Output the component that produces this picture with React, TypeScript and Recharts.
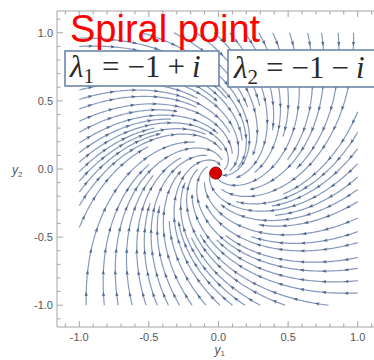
import React from 'react';
import { ScatterChart, Scatter, XAxis, YAxis, ReferenceLine } from 'recharts';

// y' = A y with eigenvalues λ = re ± i·im  (A = [[re, im], [-im, re]])
const LAMBDA_RE = -1;
const LAMBDA_IM = 1;

// where each streamline enters the square [-1, 1]², going clockwise round it,
// and the radius at which it stops
const topEntryX = [-0.55, -0.32, -0.16, -0.03, 0.08, 0.19, 0.29, 0.39, 0.51, 0.64, 0.74, 0.86, 0.97];
const topEndR = [0.03, 0.5, 0.27, 0.55, 0.14, 0.48, 0.26, 0.52, 0.07, 0.5, 0.28, 0.56, 0.15];
const rightEntryY = [0.42, 0.27, 0.15, 0.04, -0.06, -0.15, -0.24, -0.36, -0.46, -0.54, -0.65, -0.73, -0.82, -0.91];
const rightEndR = [0.5, 0.27, 0.47, 0.04, 0.53, 0.26, 0.5, 0.14, 0.55, 0.28, 0.49, 0.08, 0.52, 0.27];
const bottomEntryX = [0.79, 0.48, 0.3, 0.19, 0.1, 0.01, -0.09, -0.19, -0.28, -0.36, -0.44, -0.52, -0.62, -0.72, -0.82, -0.95];
const bottomEndR = [0.5, 0.15, 0.54, 0.26, 0.48, 0.03, 0.52, 0.27, 0.5, 0.13, 0.55, 0.28, 0.47, 0.07, 0.5, 0.26];
const leftEntryY = [-0.43, -0.27, -0.17, -0.09, -0.02, 0.05, 0.12, 0.19, 0.27, 0.35, 0.44, 0.51, 0.58, 0.66, 0.74, 0.82, 0.9, 0.96];
const leftEndR = [0.53, 0.14, 0.49, 0.27, 0.55, 0.04, 0.5, 0.26, 0.52, 0.15, 0.48, 0.28, 0.54, 0.08, 0.5, 0.27, 0.52, 0.14];

const equilibrium = [{ x: -0.02, y: -0.03 }];

const majorTicks = [-1, -0.5, 0, 0.5, 1];
const minorTicks = [-1.1, -0.9, -0.8, -0.7, -0.6, -0.4, -0.3, -0.2, -0.1, 0.1, 0.2, 0.3, 0.4, 0.6, 0.7, 0.8, 0.9, 1.1];

// layout
const W = 400;
const H = 360;
const M = { top: 11, right: 20, bottom: 0, left: 0 };
const Y_AXIS_W = 57;
const X_AXIS_H = 33;
const LO = -1.16;
const HI = 1.16;
const KX = (W - M.left - M.right - Y_AXIS_W) / (HI - LO);
const KY = (H - M.top - M.bottom - X_AXIS_H) / (HI - LO);

const LINE_COLOR = '#8598bc';
const ARROW_COLOR = '#4f6690';
const FRAME = '#a3a3a3';
const FONT = '"Liberation Sans", Arial, sans-serif';
const MATH_FONT = '"Liberation Serif", "Times New Roman", serif';

const ARROW_GAP = 0.16; // arc length between arrowheads
const SUB = 12; // samples between arrowheads

type Pt = { x: number; y: number; arrow?: boolean; ang?: number };

// follow the flow from (x0, y0) inward until radius rEnd
function streamline(x0: number, y0: number, rEnd: number): Pt[] {
  const r0 = Math.hypot(x0, y0);
  const th0 = Math.atan2(y0, x0);
  const dsdr = Math.hypot(LAMBDA_RE, LAMBDA_IM) / Math.abs(LAMBDA_RE);
  const dr = ARROW_GAP / SUB / dsdr;
  const pts: Pt[] = [];
  for (let j = 0; ; j++) {
    let r = r0 - j * dr;
    const last = r <= rEnd;
    if (last) r = rEnd;
    const t = Math.log(r / r0) / LAMBDA_RE;
    const th = th0 - LAMBDA_IM * t;
    const x = r * Math.cos(th);
    const y = r * Math.sin(th);
    const p: Pt = { x, y };
    if (!last && j % SUB === SUB / 2) {
      const vx = LAMBDA_RE * x + LAMBDA_IM * y;
      const vy = -LAMBDA_IM * x + LAMBDA_RE * y;
      p.arrow = true;
      p.ang = (Math.atan2(-vy * KY, vx * KX) * 180) / Math.PI;
    }
    pts.push(p);
    if (last) break;
  }
  return pts;
}

const seeds: [number, number, number][] = [
  ...topEntryX.map((v, i) => [v, 1, topEndR[i]] as [number, number, number]),
  ...rightEntryY.map((v, i) => [1, v, rightEndR[i]] as [number, number, number]),
  ...bottomEntryX.map((v, i) => [v, -1, bottomEndR[i]] as [number, number, number]),
  ...leftEntryY.map((v, i) => [-1, v, leftEndR[i]] as [number, number, number]),
];

const streams = seeds.map(([x, y, r]) => streamline(x, y, r));

const Arrowhead = (props: any) => {
  const { cx, cy, payload } = props;
  if (!payload || !payload.arrow) return <g />;
  return (
    <path
      d="M2.6,0 L-2,1.7 L-1.1,0 L-2,-1.7 Z"
      transform={`translate(${cx},${cy}) rotate(${payload.ang})`}
      fill={ARROW_COLOR}
    />
  );
};

const Dot = (props: any) => (
  <circle cx={props.cx} cy={props.cy} r={6} fill="#d60000" stroke="#a30000" strokeWidth={1} />
);

// frame ticks point inward on all four sides
function frameTicks(values: number[], len: number, keyPrefix: string) {
  const lx = len / KX;
  const ly = len / KY;
  const out: React.ReactNode[] = [];
  values.forEach((v) => {
    out.push(
      <ReferenceLine key={`${keyPrefix}b${v}`} segment={[{ x: v, y: LO }, { x: v, y: LO + ly }]} stroke={FRAME} ifOverflow="visible" />,
      <ReferenceLine key={`${keyPrefix}t${v}`} segment={[{ x: v, y: HI }, { x: v, y: HI - ly }]} stroke={FRAME} ifOverflow="visible" />,
      <ReferenceLine key={`${keyPrefix}l${v}`} segment={[{ x: LO, y: v }, { x: LO + lx, y: v }]} stroke={FRAME} ifOverflow="visible" />,
      <ReferenceLine key={`${keyPrefix}r${v}`} segment={[{ x: HI, y: v }, { x: HI - lx, y: v }]} stroke={FRAME} ifOverflow="visible" />
    );
  });
  return out;
}

const YLabel = (props: any) => {
  const vb = props.viewBox;
  return (
    <text x={vb.x + 12} y={vb.y + vb.height / 2 + 5} fill="#555" fontFamily={FONT} fontSize={12} fontStyle="italic">
      y<tspan fontSize={8} dy={3} fontStyle="normal">2</tspan>
    </text>
  );
};

const XLabel = (props: any) => {
  const vb = props.viewBox;
  return (
    <text x={vb.x + vb.width / 2 - 4} y={vb.y + vb.height - 6} fill="#555" fontFamily={FONT} fontSize={12} fontStyle="italic">
      y<tspan fontSize={8} dy={2} fontStyle="normal">1</tspan>
    </text>
  );
};

const tickStyle = { fill: '#555', fontSize: 11, fontFamily: FONT };

export default function App() {
  return (
    <div style={{ position: 'fixed', left: 0, top: 0, width: 374, height: 360, overflow: 'hidden', background: '#fff' }}>
      <ScatterChart width={W} height={H} margin={M}>
        <XAxis
          type="number"
          dataKey="x"
          domain={[LO, HI]}
          ticks={majorTicks}
          tickFormatter={(v: number) => v.toFixed(1)}
          tickLine={false}
          tickSize={0}
          tickMargin={6}
          axisLine={{ stroke: FRAME }}
          tick={tickStyle}
          height={X_AXIS_H}
          allowDataOverflow
          label={{ content: XLabel }}
        />
        <YAxis
          type="number"
          dataKey="y"
          domain={[LO, HI]}
          ticks={majorTicks}
          tickFormatter={(v: number) => v.toFixed(1)}
          tickLine={false}
          tickSize={0}
          tickMargin={4}
          axisLine={{ stroke: FRAME }}
          tick={tickStyle}
          width={Y_AXIS_W}
          allowDataOverflow
          label={{ content: YLabel }}
        />
        <ReferenceLine y={HI} stroke={FRAME} ifOverflow="visible" />
        <ReferenceLine x={HI} stroke={FRAME} ifOverflow="visible" />
        {frameTicks(majorTicks, 6, 'M')}
        {frameTicks(minorTicks, 3.5, 'm')}
        {streams.map((pts, i) => (
          <Scatter
            key={`s${i}`}
            data={pts}
            line={{ stroke: LINE_COLOR, strokeWidth: 1.2 }}
            lineType="joint"
            shape={Arrowhead}
            legendType="none"
            isAnimationActive={false}
          />
        ))}
        <Scatter data={equilibrium} shape={Dot} legendType="none" isAnimationActive={false} />
      </ScatterChart>

      <svg width={374} height={360} style={{ position: 'absolute', left: 0, top: 0, pointerEvents: 'none' }}>
        <text x={70} y={42} fill="#ff0000" fontFamily={FONT} fontSize={38}>
          Spiral point
        </text>
        <rect x={65} y={51} width={154} height={35} fill="#fff" stroke="#6a88ab" strokeWidth={1.6} />
        <rect x={228} y={50} width={170} height={37} fill="#fff" stroke="#6a88ab" strokeWidth={1.6} />
        <text x={70} y={77} fill="#2a2a2a" fontFamily={MATH_FONT} fontSize={31}>
          <tspan fontStyle="italic">λ</tspan>
          <tspan fontSize={21} dy={6}>1</tspan>
          <tspan dy={-6} dx={8}>=</tspan>
          <tspan dx={8}>−1</tspan>
          <tspan dx={7}>+</tspan>
          <tspan dx={7} fontStyle="italic">i</tspan>
        </text>
        <text x={234} y={78} fill="#2a2a2a" fontFamily={MATH_FONT} fontSize={31}>
          <tspan fontStyle="italic">λ</tspan>
          <tspan fontSize={21} dy={6}>2</tspan>
          <tspan dy={-6} dx={8}>=</tspan>
          <tspan dx={8}>−1</tspan>
          <tspan dx={7}>−</tspan>
          <tspan dx={7} fontStyle="italic">i</tspan>
        </text>
      </svg>
    </div>
  );
}
